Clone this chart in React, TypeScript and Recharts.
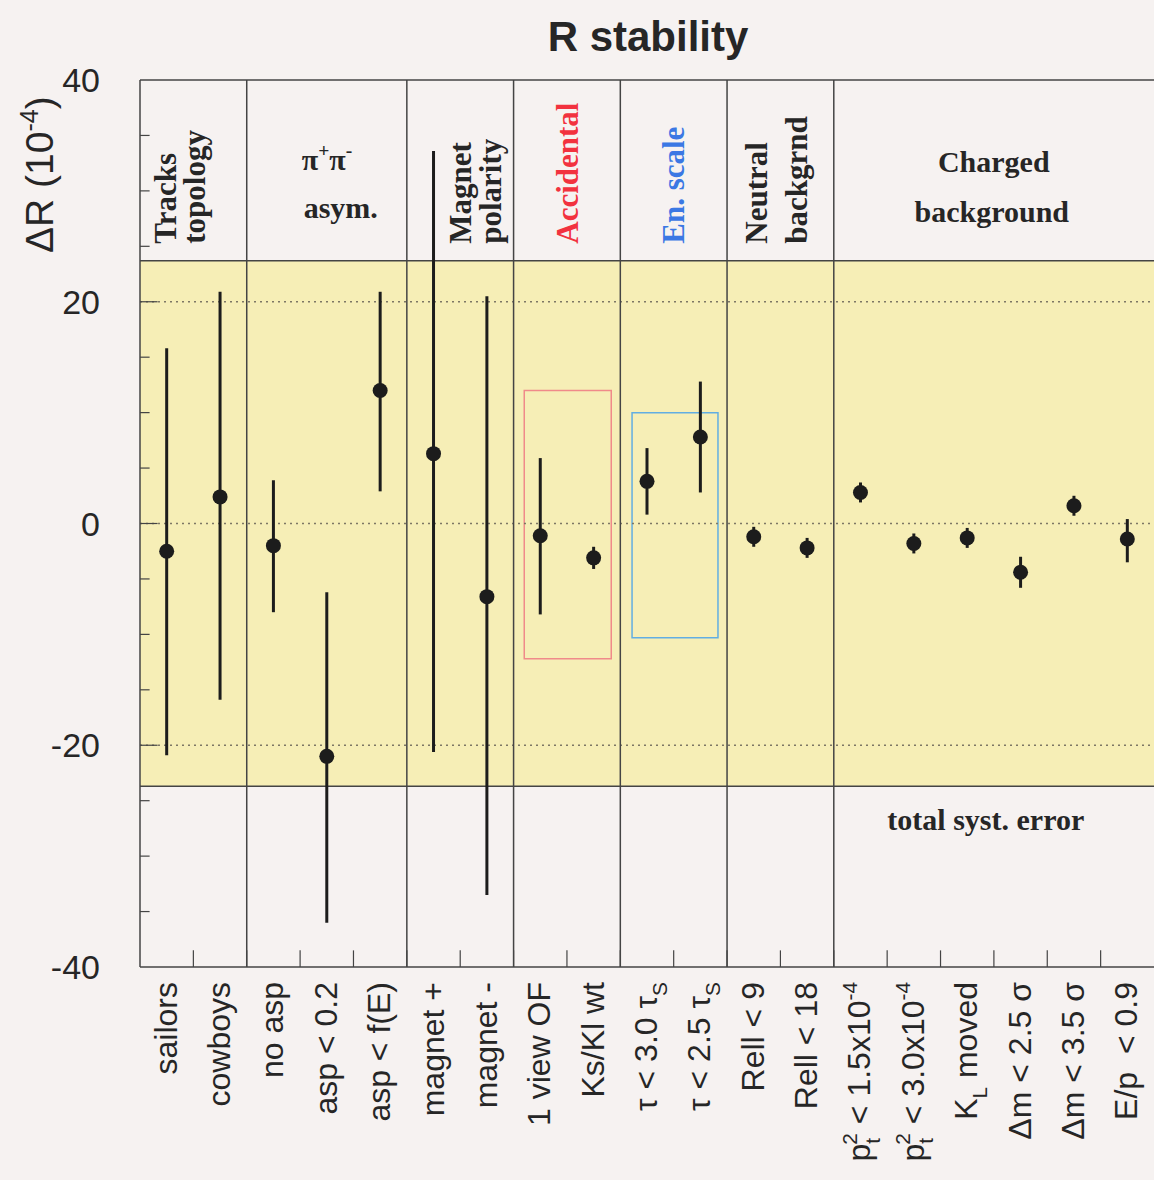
import {
  ComposedChart,
  Scatter,
  ErrorBar,
  XAxis,
  YAxis,
  ReferenceArea,
  ReferenceLine,
} from "recharts";

// cut names, _{..} = subscript, ^{..} = superscript
const categories = [
  "sailors",
  "cowboys",
  "no asp",
  "asp < 0.2",
  "asp < f(E)",
  "magnet +",
  "magnet -",
  "1 view OF",
  "Ks/Kl wt",
  "τ < 3.0 τ_{S}",
  "τ < 2.5 τ_{S}",
  "Rell < 9",
  "Rell < 18",
  "p_{t}^{2} < 1.5x10^{-4}",
  "p_{t}^{2} < 3.0x10^{-4}",
  "K_{L} moved",
  "Δm < 2.5 σ",
  "Δm < 3.5 σ",
  "E/p  < 0.9",
];

// ΔR in units of 1e-4
const values = [-2.5, 2.4, -2.0, -21.0, 12.0, 6.3, -6.6, -1.1, -3.1, 3.8, 7.8, -1.2, -2.2, 2.8, -1.8, -1.3, -4.4, 1.6, -1.4];
const errLow = [18.4, 18.3, 6.0, 15.0, 9.1, 26.9, 26.9, 7.1, 1.0, 3.0, 5.0, 0.9, 0.9, 0.9, 0.9, 0.9, 1.4, 0.9, 2.1];
const errHigh = [18.3, 18.5, 5.9, 14.8, 8.9, 27.3, 27.1, 7.0, 1.0, 3.0, 5.0, 0.9, 0.9, 0.9, 0.9, 0.9, 1.4, 0.9, 1.8];

const yTicks = [-40, -20, 0, 20, 40];
const gridValues = [-20, 0, 20];
const minorTicks = [-35, -30, -25, -15, -10, -5, 5, 10, 15, 25, 30, 35];
const groupEdges = [2, 5, 7, 9, 11, 13];
const systError = 23.7;

const data = categories.map((name, i) => ({
  name,
  x: i + 0.5,
  value: values[i],
  err: [errLow[i], errHigh[i]],
}));
const xTicks = data.map((d) => d.x);
const boundaryTicks = categories.slice(1).map((_, i) => i + 1);

const SANS = "'Liberation Sans', Arial, Helvetica, sans-serif";
const SERIF = "'Liberation Serif', 'Times New Roman', serif";
const INK = "#262626";
const FRAME = "#444";

function rich(s: string, fs: number) {
  const re = /([_^])\{([^}]*)\}/g;
  const out: any[] = [];
  const small = fs * 0.65;
  let last = 0;
  let shift = 0;
  let prevKind = "";
  let prevLen = 0;
  let k = 0;
  const push = (text: string, kind: string) => {
    const target = kind === "sub" ? fs * 0.3 : kind === "sup" ? -fs * 0.42 : 0;
    const dy = target - shift;
    shift = target;
    const dx = kind === "sup" && prevKind === "sub" ? -prevLen * small * 0.32 : 0;
    out.push(
      <tspan key={k++} dy={dy || undefined} dx={dx || undefined} fontSize={kind === "n" ? undefined : small}>
        {text}
      </tspan>
    );
    prevKind = kind;
    prevLen = text.length;
  };
  let m: RegExpExecArray | null;
  while ((m = re.exec(s))) {
    if (m.index > last) push(s.slice(last, m.index), "n");
    push(m[2], m[1] === "_" ? "sub" : "sup");
    last = re.lastIndex;
  }
  if (last < s.length) push(s.slice(last), "n");
  return out;
}

const CatTick = (props: any) => {
  const { x, payload } = props;
  const label = categories[Math.floor(payload.value)];
  const bx = x + 10;
  const by = 982;
  return (
    <text
      x={bx}
      y={by}
      transform={`rotate(-90, ${bx}, ${by})`}
      textAnchor="end"
      fontSize={32}
      fontFamily={SANS}
      fill={INK}
      style={{ whiteSpace: "pre" }}
    >
      {rich(label, 32)}
    </text>
  );
};

const ValTick = (props: any) => {
  const { x, y, payload } = props;
  return (
    <text x={x} y={y} dy={12} textAnchor="end" fontSize={34} fontFamily={SANS} fill={INK}>
      {payload.value}
    </text>
  );
};

const YLabel = () => (
  <text
    x={53}
    y={253}
    transform="rotate(-90, 53, 253)"
    fontSize={39}
    fontFamily={SANS}
    fill={INK}
  >
    ΔR (10
    <tspan dy={-15} fontSize={25}>
      -4
    </tspan>
    <tspan dy={15}>)</tspan>
  </text>
);

// rotated header text, lines start at the bottom of the header strip
const rotHeader = (lines: { t: string; dx: number }[], color = INK) => (p: any) => {
  const vb = p.viewBox;
  const by = vb.y + vb.height - 17;
  return (
    <g>
      {lines.map((l) => (
        <text
          key={l.t}
          x={vb.x + l.dx}
          y={by}
          transform={`rotate(-90, ${vb.x + l.dx}, ${by})`}
          fontSize={31}
          fontWeight="bold"
          fontFamily={SERIF}
          fill={color}
        >
          {l.t}
        </text>
      ))}
    </g>
  );
};

const flatHeader = (lines: { t: string; dx: number; dy: number; anchor?: string }[]) => (p: any) => {
  const vb = p.viewBox;
  return (
    <g>
      {lines.map((l) => (
        <text
          key={l.t}
          x={vb.x + l.dx}
          y={vb.y + l.dy}
          textAnchor={(l.anchor as any) || "middle"}
          fontSize={30}
          fontWeight="bold"
          fontFamily={SERIF}
          fill={INK}
        >
          {rich(l.t, 30)}
        </text>
      ))}
    </g>
  );
};

export default function App() {
  return (
    <div
      style={{
        position: "absolute",
        left: 0,
        top: 0,
        width: 1154,
        height: 1180,
        background: "#f6f2f1",
      }}
    >
      <div
        style={{
          position: "absolute",
          left: 0,
          width: 1296,
          top: 16,
          textAlign: "center",
          fontFamily: SANS,
          fontWeight: "bold",
          fontSize: 42,
          lineHeight: "42px",
          color: INK,
        }}
      >
        R stability
      </div>
      <ComposedChart
        width={1154}
        height={1180}
        data={data}
        margin={{ top: 80, right: 0, bottom: 0, left: 80 }}
      >
        <ReferenceArea x1={0} x2={19} y1={-systError} y2={systError} fill="#f6eeb6" fillOpacity={1} stroke="none" />
        {gridValues.map((v) => (
          <ReferenceLine key={`g${v}`} y={v} stroke="#7d7765" strokeWidth={1.5} strokeDasharray="2 4" />
        ))}
        <ReferenceArea x1={7.2} x2={8.83} y1={-12.2} y2={12} fill="none" stroke="#f08a8a" strokeWidth={1.5} />
        <ReferenceArea x1={9.22} x2={10.83} y1={-10.3} y2={10} fill="none" stroke="#62aee2" strokeWidth={1.5} />
        <ReferenceLine y={40} stroke={FRAME} strokeWidth={1.5} />
        <ReferenceLine y={systError} stroke={FRAME} strokeWidth={1.5} />
        <ReferenceLine y={-systError} stroke={FRAME} strokeWidth={1.5} />
        {groupEdges.map((e) => (
          <ReferenceLine key={`e${e}`} x={e} stroke={FRAME} strokeWidth={1.5} />
        ))}
        {minorTicks.map((v) => (
          <ReferenceLine key={`m${v}`} segment={[{ x: 0, y: v }, { x: 0.18, y: v }]} stroke={FRAME} strokeWidth={1.2} />
        ))}
        {gridValues.map((v) => (
          <ReferenceLine key={`M${v}`} segment={[{ x: 0, y: v }, { x: 0.33, y: v }]} stroke={FRAME} strokeWidth={1.2} />
        ))}
        {boundaryTicks.map((b) => (
          <ReferenceLine key={`b${b}`} segment={[{ x: b, y: -40 }, { x: b, y: -38.5 }]} stroke={FRAME} strokeWidth={1.2} />
        ))}
        <ReferenceArea
          x1={0}
          x2={2}
          y1={systError}
          y2={40}
          fill="none"
          stroke="none"
          label={rotHeader([
            { t: "Tracks", dx: 36 },
            { t: "topology", dx: 65 },
          ])}
        />
        <ReferenceArea
          x1={2}
          x2={5}
          y1={systError}
          y2={40}
          fill="none"
          stroke="none"
          label={flatHeader([
            { t: "π^{+}π^{-}", dx: 55, dy: 90, anchor: "start" },
            { t: "asym.", dx: 94, dy: 138 },
          ])}
        />
        <ReferenceArea
          x1={5}
          x2={7}
          y1={systError}
          y2={40}
          fill="none"
          stroke="none"
          label={rotHeader([
            { t: "Magnet", dx: 64 },
            { t: "polarity", dx: 94 },
          ])}
        />
        <ReferenceArea
          x1={7}
          x2={9}
          y1={systError}
          y2={40}
          fill="none"
          stroke="none"
          label={rotHeader([{ t: "Accidental", dx: 64 }], "#f2323f")}
        />
        <ReferenceArea
          x1={9}
          x2={11}
          y1={systError}
          y2={40}
          fill="none"
          stroke="none"
          label={rotHeader([{ t: "En. scale", dx: 64 }], "#3b78e4")}
        />
        <ReferenceArea
          x1={11}
          x2={13}
          y1={systError}
          y2={40}
          fill="none"
          stroke="none"
          label={rotHeader([
            { t: "Neutral", dx: 40 },
            { t: "backgrnd", dx: 80 },
          ])}
        />
        <ReferenceArea
          x1={13}
          x2={19}
          y1={systError}
          y2={40}
          fill="none"
          stroke="none"
          label={flatHeader([
            { t: "Charged", dx: 160, dy: 92 },
            { t: "background", dx: 158, dy: 142 },
          ])}
        />
        <ReferenceArea
          x1={13}
          x2={19}
          y1={-40}
          y2={-systError}
          fill="none"
          stroke="none"
          label={flatHeader([{ t: "total syst. error", dx: 152, dy: 44 }])}
        />
        <XAxis
          type="number"
          dataKey="x"
          domain={[0, 19]}
          allowDataOverflow
          ticks={xTicks}
          interval={0}
          tickLine={false}
          axisLine={{ stroke: FRAME, strokeWidth: 1.5 }}
          height={213}
          tick={<CatTick />}
        />
        <YAxis
          type="number"
          domain={[-40, 40]}
          allowDataOverflow
          ticks={yTicks}
          interval={0}
          tickLine={false}
          tickMargin={34}
          width={60}
          axisLine={{ stroke: FRAME, strokeWidth: 1.5 }}
          tick={<ValTick />}
          label={<YLabel />}
        />
        <Scatter
          dataKey="value"
          isAnimationActive={false}
          shape={(p: any) => <circle cx={p.cx} cy={p.cy} r={7.5} fill="#1c1c1c" />}
        >
          <ErrorBar dataKey="err" direction="y" width={0} stroke="#1c1c1c" strokeWidth={3} />
        </Scatter>
      </ComposedChart>
    </div>
  );
}
